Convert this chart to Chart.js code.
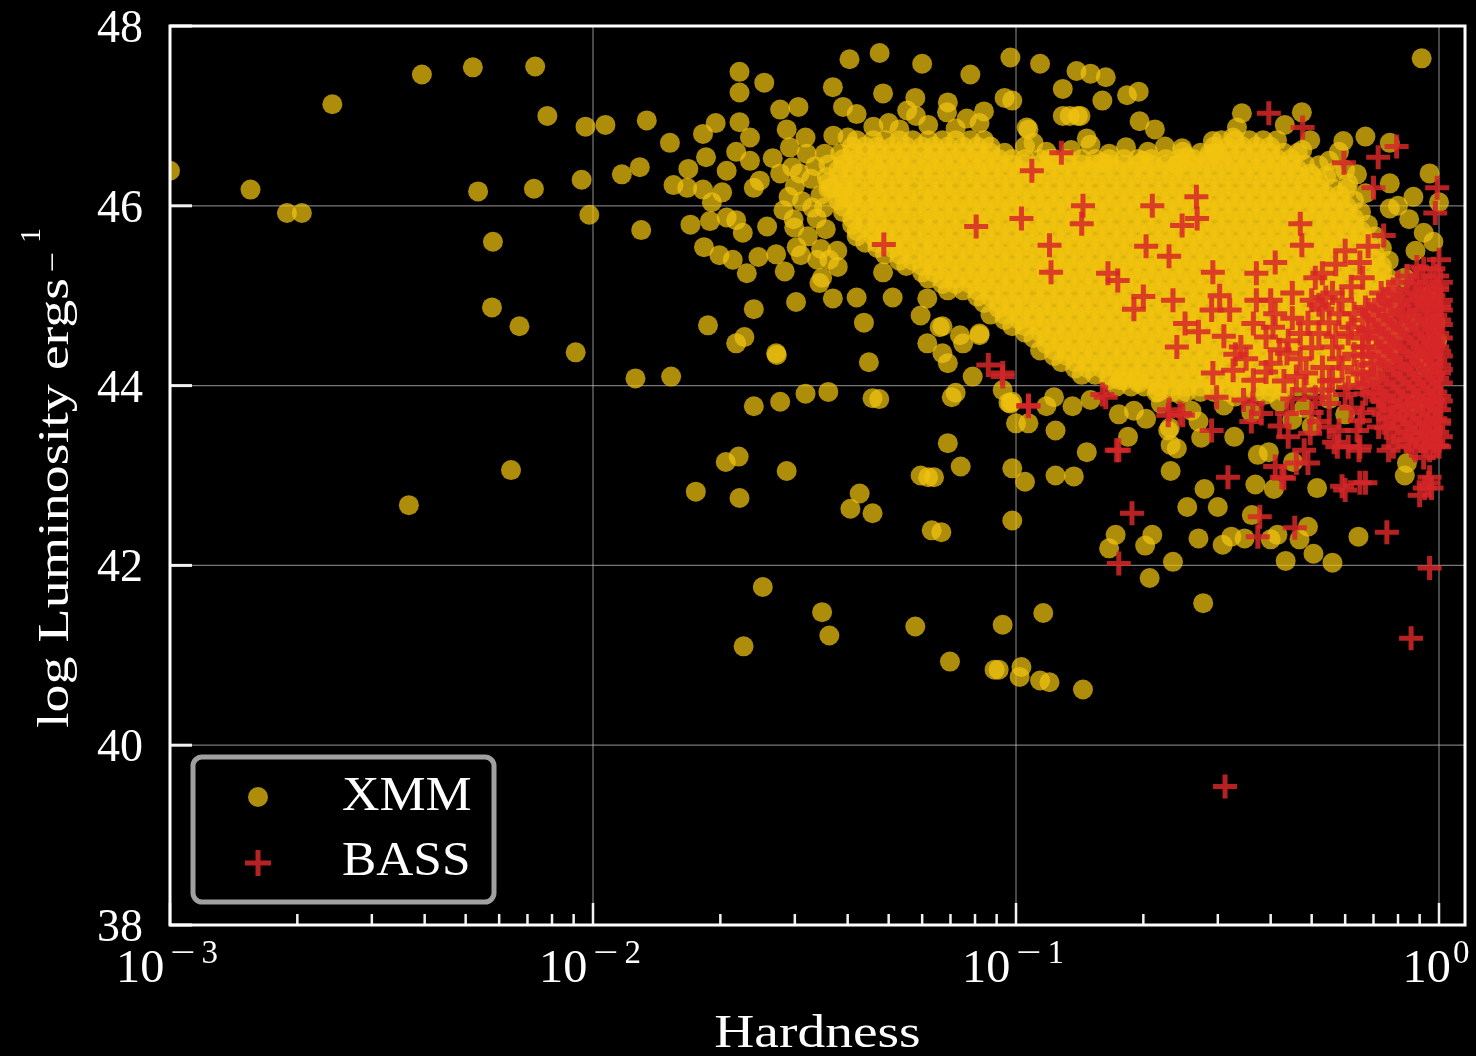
<!DOCTYPE html>
<html>
<head>
<meta charset="utf-8">
<title>Hardness vs log Luminosity</title>
<script src="https://cdn.jsdelivr.net/npm/chart.js@4.4.1/dist/chart.umd.min.js"></script>
<style>
  html, body { margin: 0; padding: 0; background: #000; }
  canvas { display: block; }
</style>
</head>
<body>
<canvas id="chart" width="1476" height="1056"></canvas>
<script>
// axis ticks
const xTickValues = [0.001, 0.01, 0.1, 1];
const xTickExponents = ["\u22123", "\u22122", "\u22121", "0"];
const xMinorMultipliers = [2, 3, 4, 5, 6, 7, 8, 9];
const yTickValues = [38, 40, 42, 44, 46, 48];
const seriesNames = ["XMM", "BASS"];

// XMM: scattered points, [hardness, log L]
const xmmSparse = [
  [0.00100,46.39],[0.00155,46.18],[0.00189,45.92],[0.00205,45.92],[0.00242,47.13],[0.00394,47.46],
  [0.0052,47.54],[0.0073,47.55],[0.0078,47.00],[0.00535,46.16],[0.0058,45.60],[0.00577,44.87],
  [0.0067,44.66],[0.00725,46.19],[0.0096,46.88],[0.0094,46.29],[0.0098,45.90],[0.0091,44.37],
  [0.0064,43.06],[0.00367,42.67],
  [0.0107,46.90],[0.0134,46.95],[0.0152,46.70],[0.0117,46.35],[0.0129,46.43],[0.0130,45.73],
  [0.0222,47.49],[0.0254,47.37],[0.0222,47.26],[0.0277,47.07],[0.0306,47.10],[0.0369,47.32],
  [0.0404,47.63],[0.0476,47.70],[0.0600,47.58],[0.0780,47.46],[0.0970,47.65],[0.0485,47.25],
  [0.0390,47.10],[0.0420,47.02],[0.0578,47.20],[0.0690,47.15],[0.0840,47.05],
  [0.0195,46.92],[0.0182,46.80],[0.0222,46.93],[0.0235,46.76],[0.0287,46.85],[0.0318,46.76],
  [0.0370,46.78],[0.0400,46.76],
  [0.0185,46.54],[0.0168,46.41],[0.0155,46.23],[0.0167,46.20],[0.0182,46.18],[0.0202,46.15],
  [0.0207,46.39],[0.0191,46.04],[0.0218,46.60],[0.0235,46.50],[0.0240,46.20],[0.0248,46.28],
  [0.0266,46.53],[0.0292,46.65],[0.0296,46.43],[0.0277,46.36],[0.0320,46.58],[0.0353,46.58],
  [0.0384,46.58],[0.0357,46.32],[0.0330,45.98],[0.0365,46.20],[0.0390,46.14],
  [0.0170,45.79],[0.0189,45.83],[0.0207,45.87],[0.0218,45.84],[0.0226,45.70],[0.0258,45.77],
  [0.0183,45.54],[0.0199,45.45],[0.0214,45.40],[0.0231,45.25],[0.0246,45.43],[0.0271,45.46],
  [0.0284,45.27],[0.0299,45.76],[0.0303,45.54],[0.0310,45.45],[0.0339,45.40],[0.0348,45.20],
  [0.0379,45.32],[0.0343,45.14],[0.0369,44.97],[0.0420,44.98],[0.0437,44.70],[0.0511,44.98],
  [0.0485,45.26],[0.0302,44.93],[0.0240,44.85],[0.0187,44.67],[0.0218,44.47],[0.0228,44.54],
  [0.0271,44.36],[0.0595,44.78],[0.0617,44.97],[0.0670,44.66],[0.0737,44.56],[0.0820,44.56],
  [0.0617,44.47],[0.0670,44.36],
  [0.0300,46.22],[0.0312,46.05],[0.0328,46.30],[0.0338,45.86],[0.0322,45.66],[0.0346,45.52],
  [0.0355,45.74],[0.0335,46.44],[0.0308,46.36],[0.0290,46.10],[0.0282,45.95],[0.0345,46.12],
  [0.0352,45.98],[0.0298,45.85],[0.0362,45.40],[0.0378,45.50],
  [0.0553,47.06],[0.0580,47.00],[0.0687,47.04],[0.0765,46.97],[0.0820,46.92],[0.1060,46.87],
  [0.1340,47.00],[0.1420,47.00],[0.1100,46.70],[0.0460,46.88],[0.0500,46.92],[0.0530,46.85],
  [0.0620,46.90],[0.0720,46.86],
  [0.105,46.66],[0.118,46.60],[0.135,46.62],[0.150,46.68],[0.166,46.58],[0.182,46.65],
  [0.205,46.60],[0.225,46.66],[0.248,46.60],
  [0.0126,44.08],[0.0153,44.10],[0.0272,44.34],[0.0449,44.26],[0.0240,43.77],[0.0277,43.82],
  [0.0318,43.91],[0.0360,43.93],[0.0458,43.86],[0.0475,43.85],[0.0705,43.87],[0.0690,43.36],
  [0.0740,43.10],[0.0620,42.98],[0.0595,43.00],[0.0640,42.98],[0.0206,43.15],[0.0221,43.21],
  [0.0287,43.05],[0.0175,42.82],[0.0222,42.75],[0.0427,42.80],[0.0406,42.63],[0.0458,42.58],
  [0.0632,42.39],[0.0666,42.37],[0.0980,42.50],[0.0252,41.76],[0.0348,41.48],[0.0362,41.22],
  [0.0227,41.10],[0.0578,41.32],[0.0930,41.34],[0.0698,40.93],[0.0910,40.84],[0.0980,43.82],
  [0.0980,43.08],[0.1000,43.58],[0.0960,43.81],
  [0.0660,44.65],[0.0750,44.47],[0.0820,44.58],[0.0690,44.25],[0.0790,44.10],[0.0720,43.92],
  [0.0930,43.95],[0.0970,43.80],[0.107,43.58],[0.118,43.77],[0.123,43.87],[0.136,43.77],
  [0.150,43.84],[0.176,44.06],[0.195,44.03],[0.215,43.92],[0.229,43.50],[0.175,43.68],[0.190,43.72],
  [0.0890,40.84],[0.103,40.87],[0.102,40.76],[0.116,41.47],[0.114,40.72],[0.120,40.70],
  [0.144,40.62],[0.277,41.58],[0.105,42.93],[0.124,43.50],[0.124,43.00],[0.137,42.99],
  [0.147,43.26],[0.184,43.43],[0.232,43.05],[0.232,43.34],[0.240,43.30],[0.203,43.63],
  [0.231,43.53],[0.274,43.42],[0.328,43.43],[0.279,42.85],[0.254,42.65],[0.300,42.65],
  [0.368,42.90],[0.407,42.85],[0.515,42.86],[0.452,43.15],[0.373,43.23],[0.396,43.26],
  [0.830,43.00],[0.840,43.14],[0.172,42.34],[0.166,42.19],[0.210,42.34],[0.202,42.22],
  [0.235,42.04],[0.207,41.86],[0.270,42.30],[0.308,42.23],[0.323,42.32],[0.347,42.30],
  [0.400,42.29],[0.415,42.34],[0.468,42.29],[0.490,42.43],[0.434,42.05],[0.505,42.13],
  [0.560,42.03],[0.645,42.32],[0.361,42.56],
  [0.114,47.58],[0.139,47.50],[0.150,47.47],[0.163,47.43],[0.129,47.30],[0.183,47.23],
  [0.195,47.27],[0.160,47.17],[0.098,47.17],[0.094,47.20],[0.129,47.00],[0.140,47.00],
  [0.196,46.94],[0.213,46.85],[0.107,46.85],[0.147,46.75],[0.342,47.03],[0.333,46.87],
  [0.326,46.76],[0.292,46.72],[0.300,46.58],[0.474,47.04],[0.432,46.90],[0.496,46.73],
  [0.475,46.62],[0.496,46.36],[0.594,46.72],[0.670,46.77],[0.765,46.70],[0.562,46.37],
  [0.610,46.25],[0.670,46.14],[0.765,46.25],[0.765,45.97],[0.870,46.10],[0.950,46.36],
  [1.000,46.04],[0.247,46.64],[0.253,46.54],[0.287,46.58],[0.910,47.64],
  [0.520,46.45],[0.550,46.50],[0.600,46.40],[0.640,46.35],[0.580,46.60],
  [0.800,46.00],[0.850,45.85],[0.920,45.70],[0.880,45.50],[0.970,45.60],[0.830,45.20],
  [0.950,45.00],[0.800,44.60],[0.900,44.30],[0.980,44.70],[0.780,45.00],[0.850,44.70],
  [0.930,44.20],[0.880,43.80],[0.990,44.50],[0.750,44.40],
  [0.220,43.80],[0.260,43.72],[0.310,43.78],[0.360,43.70],[0.420,43.82],[0.480,43.75],
  [0.550,43.85],[0.600,43.68],[0.500,43.55],[0.450,43.62],[0.270,43.60],[0.330,43.88],
  [0.245,43.90],[0.390,43.90],[0.120,46.52],[0.160,46.48],[0.200,46.50],[0.240,46.45]
];

// XMM: the dense cloud, one row per log L level: [log L, [hardness...]]
const xmmCoreRows = [
  [46.73, [0.042,0.046,0.049,0.053,0.057,0.062,0.067,0.072,0.078,0.084,0.306,0.330,0.356,0.384,0.414]],
  [46.66, [0.041,0.044,0.047,0.051,0.055,0.060,0.064,0.069,0.075,0.081,0.087,0.294,0.318,0.343,0.370,0.399]],
  [46.59, [0.041,0.044,0.047,0.051,0.055,0.060,0.064,0.069,0.075,0.081,0.087,0.094,0.273,0.294,0.318,0.343,0.370,0.399,0.430,0.464]],
  [46.52, [0.039,0.042,0.046,0.049,0.053,0.057,0.062,0.067,0.072,0.078,0.084,0.091,0.098,0.105,0.114,0.123,0.132,0.143,0.154,0.166,0.180,0.194,0.209,0.226,0.243,0.263,0.283,0.306,0.330,0.356,0.384,0.414,0.447]],
  [46.46, [0.036,0.039,0.042,0.046,0.049,0.053,0.057,0.062,0.067,0.072,0.078,0.084,0.091,0.098,0.105,0.114,0.123,0.132,0.143,0.154,0.166,0.180,0.194,0.209,0.226,0.243,0.263,0.283,0.306,0.330,0.356,0.384,0.414,0.447,0.482]],
  [46.40, [0.038,0.041,0.044,0.047,0.051,0.055,0.060,0.064,0.069,0.075,0.081,0.087,0.094,0.102,0.110,0.118,0.128,0.138,0.148,0.160,0.173,0.187,0.201,0.217,0.234,0.253,0.273,0.294,0.318,0.343,0.370,0.399,0.430,0.464]],
  [46.33, [0.038,0.041,0.044,0.047,0.051,0.055,0.060,0.064,0.069,0.075,0.081,0.087,0.094,0.102,0.110,0.118,0.128,0.138,0.148,0.160,0.173,0.187,0.201,0.217,0.234,0.253,0.273,0.294,0.318,0.343,0.370,0.399,0.430,0.464,0.501,0.541]],
  [46.26, [0.036,0.039,0.042,0.046,0.049,0.053,0.057,0.062,0.067,0.072,0.078,0.084,0.091,0.098,0.105,0.114,0.123,0.132,0.143,0.154,0.166,0.180,0.194,0.209,0.226,0.243,0.263,0.283,0.306,0.330,0.356,0.384,0.414,0.447,0.482,0.521]],
  [46.19, [0.036,0.039,0.042,0.046,0.049,0.053,0.057,0.062,0.067,0.072,0.078,0.084,0.091,0.098,0.105,0.114,0.123,0.132,0.143,0.154,0.166,0.180,0.194,0.209,0.226,0.243,0.263,0.283,0.306,0.330,0.356,0.384,0.414,0.447,0.482,0.521,0.562,0.606]],
  [46.12, [0.038,0.041,0.044,0.047,0.051,0.055,0.060,0.064,0.069,0.075,0.081,0.087,0.094,0.102,0.110,0.118,0.128,0.138,0.148,0.160,0.173,0.187,0.201,0.217,0.234,0.253,0.273,0.294,0.318,0.343,0.370,0.399,0.430,0.464,0.501,0.541,0.583]],
  [46.06, [0.038,0.041,0.044,0.047,0.051,0.055,0.060,0.064,0.069,0.075,0.081,0.087,0.094,0.102,0.110,0.118,0.128,0.138,0.148,0.160,0.173,0.187,0.201,0.217,0.234,0.253,0.273,0.294,0.318,0.343,0.370,0.399,0.430,0.464,0.501,0.541,0.583,0.630]],
  [45.99, [0.039,0.042,0.046,0.049,0.053,0.057,0.062,0.067,0.072,0.078,0.084,0.091,0.098,0.105,0.114,0.123,0.132,0.143,0.154,0.166,0.180,0.194,0.209,0.226,0.243,0.263,0.283,0.306,0.330,0.356,0.384,0.414,0.447,0.482,0.521,0.562,0.606]],
  [45.93, [0.039,0.042,0.046,0.049,0.053,0.057,0.062,0.067,0.072,0.078,0.084,0.091,0.098,0.105,0.114,0.123,0.132,0.143,0.154,0.166,0.180,0.194,0.209,0.226,0.243,0.263,0.283,0.306,0.330,0.356,0.384,0.414,0.447,0.482,0.521,0.562,0.606,0.654]],
  [45.86, [0.041,0.044,0.047,0.051,0.055,0.060,0.064,0.069,0.075,0.081,0.087,0.094,0.102,0.110,0.118,0.128,0.138,0.148,0.160,0.173,0.187,0.201,0.217,0.234,0.253,0.273,0.294,0.318,0.343,0.370,0.399,0.430,0.464,0.501,0.541,0.583,0.630]],
  [45.79, [0.041,0.044,0.047,0.051,0.055,0.060,0.064,0.069,0.075,0.081,0.087,0.094,0.102,0.110,0.118,0.128,0.138,0.148,0.160,0.173,0.187,0.201,0.217,0.234,0.253,0.273,0.294,0.318,0.343,0.370,0.399,0.430,0.464,0.501,0.541,0.583,0.630,0.679]],
  [45.72, [0.042,0.046,0.049,0.053,0.057,0.062,0.067,0.072,0.078,0.084,0.091,0.098,0.105,0.114,0.123,0.132,0.143,0.154,0.166,0.180,0.194,0.209,0.226,0.243,0.263,0.283,0.306,0.330,0.356,0.384,0.414,0.447,0.482,0.521,0.562,0.606,0.654]],
  [45.66, [0.042,0.046,0.049,0.053,0.057,0.062,0.067,0.072,0.078,0.084,0.091,0.098,0.105,0.114,0.123,0.132,0.143,0.154,0.166,0.180,0.194,0.209,0.226,0.243,0.263,0.283,0.306,0.330,0.356,0.384,0.414,0.447,0.482,0.521,0.562,0.606,0.654,0.706]],
  [45.59, [0.044,0.047,0.051,0.055,0.060,0.064,0.069,0.075,0.081,0.087,0.094,0.102,0.110,0.118,0.128,0.138,0.148,0.160,0.173,0.187,0.201,0.217,0.234,0.253,0.273,0.294,0.318,0.343,0.370,0.399,0.430,0.464,0.501,0.541,0.583,0.630,0.679]],
  [45.53, [0.047,0.051,0.055,0.060,0.064,0.069,0.075,0.081,0.087,0.094,0.102,0.110,0.118,0.128,0.138,0.148,0.160,0.173,0.187,0.201,0.217,0.234,0.253,0.273,0.294,0.318,0.343,0.370,0.399,0.430,0.464,0.501,0.541,0.583,0.630,0.679,0.733]],
  [45.46, [0.049,0.053,0.057,0.062,0.067,0.072,0.078,0.084,0.091,0.098,0.105,0.114,0.123,0.132,0.143,0.154,0.166,0.180,0.194,0.209,0.226,0.243,0.263,0.283,0.306,0.330,0.356,0.384,0.414,0.447,0.482,0.521,0.562,0.606,0.654,0.706]],
  [45.39, [0.053,0.057,0.062,0.067,0.072,0.078,0.084,0.091,0.098,0.105,0.114,0.123,0.132,0.143,0.154,0.166,0.180,0.194,0.209,0.226,0.243,0.263,0.283,0.306,0.330,0.356,0.384,0.414,0.447,0.482,0.521,0.562,0.606,0.654,0.706,0.761]],
  [45.33, [0.055,0.060,0.064,0.069,0.075,0.081,0.087,0.094,0.102,0.110,0.118,0.128,0.138,0.148,0.160,0.173,0.187,0.201,0.217,0.234,0.253,0.273,0.294,0.318,0.343,0.370,0.399,0.430,0.464,0.501,0.541,0.583,0.630,0.679,0.733]],
  [45.26, [0.060,0.064,0.069,0.075,0.081,0.087,0.094,0.102,0.110,0.118,0.128,0.138,0.148,0.160,0.173,0.187,0.201,0.217,0.234,0.253,0.273,0.294,0.318,0.343,0.370,0.399,0.430,0.464,0.501,0.541,0.583,0.630,0.679,0.733]],
  [45.19, [0.062,0.067,0.072,0.078,0.084,0.091,0.098,0.105,0.114,0.123,0.132,0.143,0.154,0.166,0.180,0.194,0.209,0.226,0.243,0.263,0.283,0.306,0.330,0.356,0.384,0.414,0.447,0.482,0.521,0.562,0.606,0.654,0.706,0.761]],
  [45.13, [0.067,0.072,0.078,0.084,0.091,0.098,0.105,0.114,0.123,0.132,0.143,0.154,0.166,0.180,0.194,0.209,0.226,0.243,0.263,0.283,0.306,0.330,0.356,0.384,0.414,0.447,0.482,0.521,0.562,0.606,0.654,0.706,0.761]],
  [45.06, [0.069,0.075,0.081,0.087,0.094,0.102,0.110,0.118,0.128,0.138,0.148,0.160,0.173,0.187,0.201,0.217,0.234,0.253,0.273,0.294,0.318,0.343,0.370,0.399,0.430,0.464,0.501,0.541,0.583,0.630,0.679,0.733]],
  [44.99, [0.081,0.087,0.094,0.102,0.110,0.118,0.128,0.138,0.148,0.160,0.173,0.187,0.201,0.217,0.234,0.253,0.273,0.294,0.318,0.343,0.370,0.399,0.430,0.464,0.501,0.541,0.583,0.630,0.679,0.733]],
  [44.92, [0.084,0.091,0.098,0.105,0.114,0.123,0.132,0.143,0.154,0.166,0.180,0.194,0.209,0.226,0.243,0.263,0.283,0.306,0.330,0.356,0.384,0.414,0.447,0.482,0.521,0.562,0.606,0.654,0.706,0.761]],
  [44.86, [0.091,0.098,0.105,0.114,0.123,0.132,0.143,0.154,0.166,0.180,0.194,0.209,0.226,0.243,0.263,0.283,0.306,0.330,0.356,0.384,0.414,0.447,0.482,0.521,0.562,0.606,0.654,0.706,0.761]],
  [44.79, [0.087,0.094,0.102,0.110,0.118,0.128,0.138,0.148,0.160,0.173,0.187,0.201,0.217,0.234,0.253,0.273,0.294,0.318,0.343,0.370,0.399,0.430,0.464,0.501,0.541,0.583,0.630,0.679,0.733]],
  [44.73, [0.094,0.102,0.110,0.118,0.128,0.138,0.148,0.160,0.173,0.187,0.201,0.217,0.234,0.253,0.273,0.294,0.318,0.343,0.370,0.399,0.430,0.464,0.501,0.541,0.583,0.630,0.679,0.733]],
  [44.66, [0.098,0.105,0.114,0.123,0.132,0.143,0.154,0.166,0.180,0.194,0.209,0.226,0.243,0.263,0.283,0.306,0.330,0.356,0.384,0.414,0.447,0.482,0.521,0.562,0.606,0.654,0.706,0.761]],
  [44.59, [0.105,0.114,0.123,0.132,0.143,0.154,0.166,0.180,0.194,0.209,0.226,0.243,0.263,0.283,0.306,0.330,0.356,0.384,0.414,0.447,0.482,0.521,0.562,0.606,0.654,0.706,0.761]],
  [44.53, [0.110,0.118,0.128,0.138,0.148,0.160,0.173,0.187,0.201,0.217,0.234,0.253,0.273,0.294,0.318,0.343,0.370,0.399,0.430,0.464,0.501,0.541,0.583,0.630,0.679,0.733]],
  [44.46, [0.118,0.128,0.138,0.148,0.160,0.173,0.187,0.201,0.217,0.234,0.253,0.273,0.294,0.318,0.343,0.370,0.399,0.430,0.464,0.501,0.541,0.583,0.630,0.679,0.733]],
  [44.39, [0.114,0.123,0.132,0.143,0.154,0.166,0.180,0.194,0.209,0.226,0.243,0.263,0.283,0.306,0.330,0.356,0.384,0.414,0.447,0.482,0.521,0.562,0.606,0.654,0.706,0.761]],
  [44.33, [0.123,0.132,0.143,0.154,0.166,0.180,0.194,0.209,0.226,0.243,0.263,0.283,0.306,0.330,0.356,0.384,0.414,0.447,0.482,0.521,0.562,0.606,0.654,0.706,0.761]],
  [44.26, [0.128,0.138,0.148,0.160,0.173,0.187,0.201,0.217,0.234,0.253,0.273,0.294,0.318,0.343,0.370,0.399,0.430,0.464,0.501,0.541,0.583,0.630,0.679]],
  [44.19, [0.138,0.148,0.160,0.173,0.187,0.201,0.217,0.234,0.253,0.273,0.294,0.318,0.343,0.370,0.399,0.430,0.464,0.501,0.541,0.583,0.630,0.679]],
  [44.12, [0.143,0.154,0.166,0.180,0.194,0.209,0.226,0.243,0.263,0.283,0.306,0.330,0.356,0.384,0.414,0.447,0.482,0.521,0.562,0.606,0.654,0.706]],
  [44.06, [0.166,0.180,0.194,0.209,0.226,0.243,0.263,0.283,0.306,0.330,0.356,0.384,0.414,0.447,0.482,0.521,0.562,0.606,0.654]],
  [43.99, [0.173,0.187,0.201,0.217,0.234,0.253,0.273,0.294,0.318,0.343,0.370,0.399,0.430,0.464,0.501,0.541]],
  [43.93, [0.217,0.234,0.253,0.273,0.294,0.318,0.343,0.370,0.399,0.430]]
];

// BASS: scattered crosses, [hardness, log L]
const bassSparse = [
  [0.0487,45.57],[0.0805,45.77],[0.103,45.86],[0.109,46.39],[0.128,46.59],[0.120,45.56],
  [0.121,45.26],[0.143,45.80],[0.144,46.00],[0.165,45.25],[0.174,45.17],[0.200,44.99],
  [0.190,44.85],[0.210,46.00],[0.203,45.55],[0.230,45.44],[0.247,45.78],[0.268,45.86],
  [0.267,46.10],[0.235,44.95],[0.251,44.69],[0.240,44.43],[0.292,45.26],[0.370,45.25],
  [0.410,45.37],[0.470,45.80],[0.474,45.56],[0.530,45.25],[0.650,45.37],[0.660,45.20],
  [0.740,45.67],[0.886,45.32],[1.000,45.40],
  [0.396,47.03],[0.476,46.87],[0.596,46.48],[0.718,46.54],[0.794,46.66],[0.700,46.20],
  [0.990,46.20],[0.980,45.92],
  [0.303,45.00],[0.320,44.84],[0.370,44.95],[0.410,44.80],[0.290,44.84],[0.364,44.69],
  [0.340,44.43],[0.390,44.54],[0.437,44.36],[0.326,44.17],[0.292,44.14],[0.364,44.06],
  [0.345,43.84],[0.298,43.87],[0.380,43.69],[0.437,43.69],[0.485,44.14],[0.510,43.87],
  [0.550,43.54],[0.610,43.32],[0.650,43.32],[0.496,43.47],[0.440,43.43],[0.244,43.69],
  [0.230,43.73],[0.173,43.28],[0.160,43.90],[0.107,43.78],[0.093,44.14],
  [0.510,45.20],[0.560,45.03],[0.580,44.80],[0.670,44.87],[0.730,45.03],[0.810,44.80],
  [0.885,45.03],[0.990,45.10],[1.000,44.87],[0.450,45.03],[0.500,44.95],[0.405,44.65],
  [0.470,44.58],[0.520,44.58],[0.560,44.43],[0.610,44.58],[0.660,44.43],[0.700,44.25],
  [0.765,44.43],[0.810,44.21],[0.886,44.36],[0.970,44.43],[1.000,44.14],[0.560,44.06],
  [0.610,43.98],[0.670,43.91],[0.730,43.84],[0.810,43.76],[0.886,43.84],[0.970,43.84],
  [1.000,43.61],[0.940,43.47],[0.850,43.40],[0.780,43.32],[0.970,43.32],[0.720,43.54],
  [0.650,43.61],
  [0.086,44.23],[0.093,44.10],[0.107,43.77],[0.163,43.87],[0.175,43.28],[0.229,43.67],
  [0.248,43.67],[0.290,43.50],[0.317,42.98],[0.188,42.58],[0.175,42.02],[0.377,42.54],
  [0.373,42.32],[0.456,42.42],[0.425,42.98],[0.490,43.14],[0.600,42.84],[0.670,42.92],
  [0.575,43.32],[0.647,43.28],[0.760,43.28],[0.753,42.37],[0.950,41.97],[0.859,41.19],
  [0.312,39.54],[0.925,42.86],[0.900,42.78],[0.945,42.92],[0.410,43.10],[0.480,43.28],
  [0.363,43.80],[0.565,43.37],[0.590,42.88],[0.650,42.92],[0.960,42.86],[0.460,43.14],
  [0.430,42.97],[0.780,43.65],[0.920,43.20],[0.950,42.98],[1.000,43.32],
  [0.550,44.70],[0.620,44.65],[0.580,44.30],[0.640,44.15],[0.530,44.20],[0.470,44.30],
  [0.430,44.05],[0.400,44.25],[0.500,44.42],[0.450,44.75],[0.620,45.10],[0.570,45.35],
  [0.660,44.00],[0.620,43.75],[0.550,43.80],[0.480,43.95],[0.680,44.60],[0.600,45.50],
  [0.680,45.55],[0.640,43.50],[0.520,43.60],[0.420,43.55],[0.360,43.60],[0.330,44.35],
  [0.270,44.60],[0.310,44.55],
  [0.520,44.90],[0.570,44.55],[0.630,44.35],[0.550,44.05],[0.600,43.90],[0.660,43.70],
  [0.500,43.70],[0.580,43.50],[0.460,44.10],[0.530,44.85],
  [0.400,44.95],[0.440,44.50],[0.490,44.70],[0.540,44.98],[0.590,44.95],[0.630,44.80],
  [0.350,44.30],[0.390,44.15],[0.450,43.85],[0.530,43.95],[0.590,44.20],[0.420,44.40]
];

// BASS: the dense clump near hardness ~1, rows of [log L, [hardness...]]
const bassCoreRows = [
  [45.30, [0.92,0.97]],
  [45.22, [0.84,0.90,0.99]],
  [45.15, [0.80,0.88,0.95,1.01]],
  [45.07, [0.78,0.86,0.93,0.99]],
  [45.00, [0.76,0.84,0.91,0.97]],
  [44.95, [0.74,0.82,0.89,0.95,1.01]],
  [44.90, [0.72,0.80,0.88,0.94,1.00]],
  [44.84, [0.68,0.75,0.83,0.90,0.96,1.01]],
  [44.78, [0.70,0.77,0.85,0.92,0.98]],
  [44.73, [0.66,0.72,0.80,0.87,0.94,1.00]],
  [44.68, [0.74,0.82,0.89,0.96,1.01]],
  [44.63, [0.68,0.76,0.84,0.91,0.97]],
  [44.58, [0.71,0.78,0.86,0.93,0.99]],
  [44.53, [0.66,0.73,0.81,0.88,0.95,1.01]],
  [44.48, [0.75,0.83,0.90,0.97]],
  [44.43, [0.68,0.77,0.85,0.92,0.99]],
  [44.38, [0.72,0.79,0.87,0.94,1.00]],
  [44.33, [0.66,0.74,0.81,0.89,0.96,1.01]],
  [44.28, [0.76,0.84,0.91,0.98]],
  [44.23, [0.69,0.78,0.86,0.93,1.00]],
  [44.18, [0.73,0.81,0.88,0.95,1.01]],
  [44.13, [0.66,0.75,0.83,0.90,0.97]],
  [44.08, [0.70,0.78,0.85,0.92,0.99]],
  [44.03, [0.68,0.73,0.80,0.87,0.94,1.01]],
  [43.98, [0.75,0.82,0.89,0.96]],
  [43.93, [0.70,0.78,0.85,0.92,0.98]],
  [43.88, [0.72,0.80,0.87,0.94,1.00]],
  [43.83, [0.74,0.82,0.89,0.96,1.01]],
  [43.78, [0.77,0.84,0.91,0.98]],
  [43.73, [0.72,0.80,0.87,0.94,1.00]],
  [43.68, [0.74,0.82,0.89,0.96]],
  [43.63, [0.77,0.84,0.91,0.98]],
  [43.58, [0.80,0.87,0.94,1.00]],
  [43.53, [0.75,0.83,0.90,0.97]],
  [43.48, [0.78,0.86,0.93,0.99]],
  [43.43, [0.80,0.88,0.95,1.01]],
  [43.38, [0.84,0.91,0.97]],
  [43.33, [0.86,0.93,0.99]],
  [43.28, [0.88,0.95]]
];

const XMM_COLOR = "rgba(241, 196, 15, 0.72)";
const BASS_COLOR = "rgba(214, 39, 40, 0.85)";
const FONT = '"Liberation Serif", "Times New Roman", serif';

function buildPoints(pairs, rows) {
  const pts = pairs.map((p) => ({ x: p[0], y: p[1] }));
  rows.forEach((row) => row[1].forEach((h) => pts.push({ x: h, y: row[0] })));
  return pts;
}

const xmmPoints = buildPoints(xmmSparse, xmmCoreRows);
const bassPoints = buildPoints(bassSparse, bassCoreRows);

// draw text scaled horizontally, left aligned on the baseline, returns drawn width
function stretchedText(ctx, str, x, y, size, sx) {
  ctx.save();
  ctx.font = size + "px " + FONT;
  ctx.textAlign = "left";
  ctx.textBaseline = "alphabetic";
  const w = ctx.measureText(str).width * sx;
  ctx.translate(x, y);
  ctx.scale(sx, 1);
  ctx.fillText(str, 0, 0);
  ctx.restore();
  return w;
}

function textWidth(ctx, str, size) {
  ctx.save();
  ctx.font = size + "px " + FONT;
  const w = ctx.measureText(str).width;
  ctx.restore();
  return w;
}

const framePlugin = {
  id: "frame",
  beforeDraw(chart) {
    const ctx = chart.ctx;
    ctx.save();
    ctx.fillStyle = "#000";
    ctx.fillRect(0, 0, chart.width, chart.height);
    ctx.restore();
  },
  beforeDatasetsDraw(chart) {
    const { ctx, chartArea: a, scales } = chart;
    ctx.save();
    ctx.strokeStyle = "rgba(200, 200, 200, 0.6)";
    ctx.lineWidth = 1.2;
    xTickValues.forEach((v) => {
      const px = scales.x.getPixelForValue(v);
      if (px <= a.left + 2 || px >= a.right - 2) return;
      ctx.beginPath();
      ctx.moveTo(px, a.top);
      ctx.lineTo(px, a.bottom);
      ctx.stroke();
    });
    yTickValues.forEach((v) => {
      const py = scales.y.getPixelForValue(v);
      if (py <= a.top + 2 || py >= a.bottom - 2) return;
      ctx.beginPath();
      ctx.moveTo(a.left, py);
      ctx.lineTo(a.right, py);
      ctx.stroke();
    });
    ctx.restore();
  },
  afterDatasetsDraw(chart) {
    const { ctx, chartArea: a, scales } = chart;
    const xs = scales.x, ys = scales.y;
    ctx.save();

    // ticks, pointing inwards
    ctx.strokeStyle = "#f2f2f2";
    ctx.lineWidth = 2.5;
    xTickValues.forEach((d) => {
      const px = xs.getPixelForValue(d);
      ctx.beginPath();
      ctx.moveTo(px, a.bottom);
      ctx.lineTo(px, a.bottom - 22);
      ctx.stroke();
      xMinorMultipliers.forEach((m) => {
        const v = d * m;
        if (v > xs.max) return;
        const mx = xs.getPixelForValue(v);
        ctx.beginPath();
        ctx.moveTo(mx, a.bottom);
        ctx.lineTo(mx, a.bottom - 11);
        ctx.stroke();
      });
    });
    ctx.lineWidth = 3;
    yTickValues.forEach((v) => {
      const py = ys.getPixelForValue(v);
      ctx.beginPath();
      ctx.moveTo(a.left, py);
      ctx.lineTo(a.left + 22, py);
      ctx.stroke();
    });

    // spines
    ctx.strokeStyle = "#ffffff";
    ctx.lineWidth = 3;
    ctx.strokeRect(a.left, a.top, a.right - a.left, a.bottom - a.top);

    // y tick labels
    ctx.fillStyle = "#ffffff";
    ctx.font = "46px " + FONT;
    ctx.textAlign = "right";
    ctx.textBaseline = "alphabetic";
    yTickValues.forEach((v) => {
      ctx.fillText(String(v), 143, ys.getPixelForValue(v) + 16);
    });

    // x tick labels: 10 with a superscript exponent
    xTickValues.forEach((d, i) => {
      const exp = xTickExponents[i];
      const hasMinus = exp.length > 1;
      const w10 = textWidth(ctx, "10", 46) * 1.05;
      const wMinus = hasMinus ? textWidth(ctx, "\u2212", 33) * 1.35 : 0;
      const wDigit = textWidth(ctx, exp.slice(-1), 33);
      const total = w10 + (hasMinus ? 6 + wMinus + 6 : 2) + wDigit;
      let cx = xs.getPixelForValue(d) - total / 2 - 3;
      cx += stretchedText(ctx, "10", cx, 982, 46, 1.05);
      if (hasMinus) {
        cx += 6;
        cx += stretchedText(ctx, "\u2212", cx, 963, 33, 1.35);
        cx += 6;
      } else {
        cx += 2;
      }
      stretchedText(ctx, exp.slice(-1), cx, 963, 33, 1);
    });

    // x axis title
    const wTitle = textWidth(ctx, "Hardness", 47) * 1.18;
    stretchedText(ctx, "Hardness", (a.left + a.right) / 2 - wTitle / 2, 1047, 47, 1.18);

    // y axis title, rotated
    ctx.save();
    ctx.translate(68, 0);
    ctx.rotate(-Math.PI / 2);
    const base = "log Luminosity ergs";
    const baseW = textWidth(ctx, base, 45);
    stretchedText(ctx, base, -728, 0, 45, 450 / baseW);
    stretchedText(ctx, "\u2212", -272, -6, 30, 1.2);
    stretchedText(ctx, "1", -243, -28, 30, 1);
    ctx.restore();

    // legend
    ctx.beginPath();
    ctx.roundRect(193, 757, 301, 145, 9);
    ctx.fillStyle = "#000";
    ctx.fill();
    ctx.strokeStyle = "#a0a0a0";
    ctx.lineWidth = 5;
    ctx.stroke();

    ctx.fillStyle = XMM_COLOR;
    ctx.beginPath();
    ctx.arc(258, 797, 10, 0, Math.PI * 2);
    ctx.fill();

    ctx.strokeStyle = BASS_COLOR;
    ctx.lineWidth = 5;
    ctx.beginPath();
    ctx.moveTo(245, 863);
    ctx.lineTo(271, 863);
    ctx.moveTo(258, 850);
    ctx.lineTo(258, 876);
    ctx.stroke();

    ctx.fillStyle = "#ffffff";
    stretchedText(ctx, seriesNames[0], 342, 810, 48, 1.08);
    stretchedText(ctx, seriesNames[1], 342, 875, 48, 1.07);

    ctx.restore();
  }
};

new Chart(document.getElementById("chart"), {
  type: "scatter",
  data: {
    datasets: [
      {
        label: seriesNames[0],
        data: xmmPoints,
        pointStyle: "circle",
        pointRadius: 10,
        pointBackgroundColor: XMM_COLOR,
        pointBorderWidth: 0,
        order: 2,
        clip: 0
      },
      {
        label: seriesNames[1],
        data: bassPoints,
        pointStyle: "cross",
        pointRadius: 12,
        pointBorderColor: BASS_COLOR,
        pointBorderWidth: 5,
        order: 1,
        clip: 0
      }
    ]
  },
  options: {
    responsive: false,
    animation: false,
    events: [],
    devicePixelRatio: 1,
    layout: { autoPadding: false, padding: { left: 170, right: 11, top: 26, bottom: 131 } },
    plugins: { legend: { display: false }, tooltip: { enabled: false } },
    scales: {
      x: {
        type: "logarithmic",
        min: 0.001,
        max: 1.152,
        ticks: { display: false },
        grid: { display: false },
        border: { display: false },
        afterFit(scale) { scale.height = 0; }
      },
      y: {
        type: "linear",
        min: 38,
        max: 48,
        ticks: { display: false },
        grid: { display: false },
        border: { display: false },
        afterFit(scale) { scale.width = 0; }
      }
    }
  },
  plugins: [framePlugin]
});
</script>
</body>
</html>
